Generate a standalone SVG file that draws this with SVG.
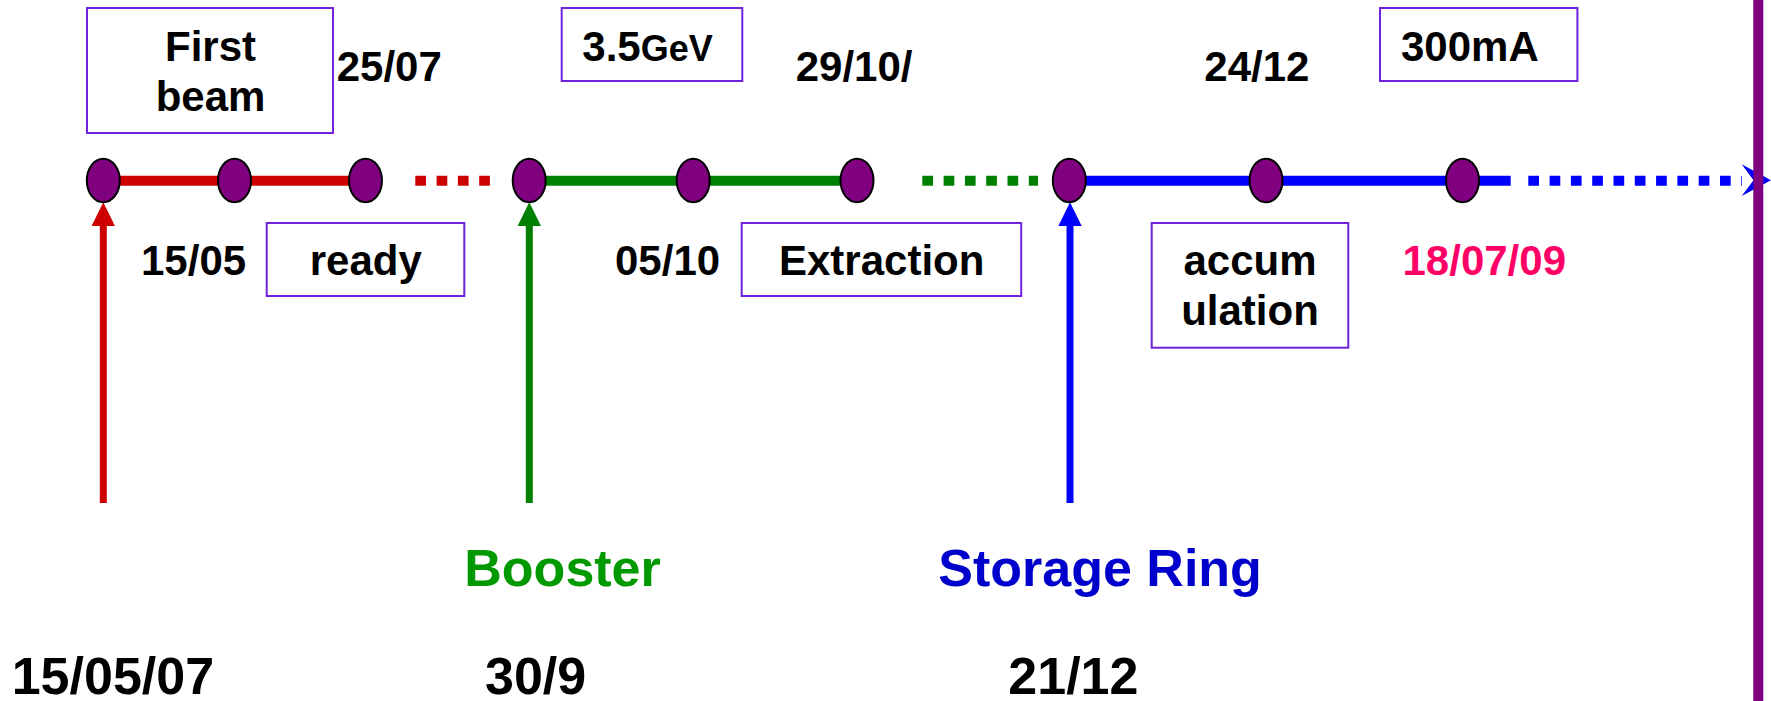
<svg xmlns="http://www.w3.org/2000/svg" width="1771" height="701" viewBox="0 0 1771 701">
  <style>
    text { font-family: "Liberation Sans", Arial, Helvetica, sans-serif; font-weight: bold; fill: #000; }
    .lbl { font-size: 42px; }
    .big { font-size: 52px; }
    .box { fill: #fff; stroke: #6f22d9; stroke-width: 2; }
    .node { fill: #800080; stroke: #000; stroke-width: 2; }
    .seg { stroke-width: 10; fill: none; }
    .dash { stroke-width: 10; fill: none; stroke-dasharray: 10.7 10.6; }
    .feed { stroke-width: 7; fill: none; }
  </style>

  <!-- timeline connectors -->
  <g id="connectors">
    <!-- linac (red) -->
    <line class="seg" x1="103" y1="180.7" x2="365.5" y2="180.7" stroke="#cc0000"/>
    <line class="dash" x1="415.3" y1="180.7" x2="490" y2="180.7" stroke="#cc0000"/>
    <line class="feed" x1="103.3" y1="503" x2="103.3" y2="224" stroke="#cc0000"/>
    <polygon points="103.3,202.3 91.6,226 115,226" fill="#cc0000"/>

    <!-- booster (green) -->
    <line class="seg" x1="529" y1="180.7" x2="857" y2="180.7" stroke="#008000"/>
    <line class="dash" x1="922.3" y1="180.7" x2="1038" y2="180.7" stroke="#008000"/>
    <line class="feed" x1="529.3" y1="503" x2="529.3" y2="224" stroke="#008000"/>
    <polygon points="529.3,202.3 517.6,226 541,226" fill="#008000"/>

    <!-- storage ring (blue) -->
    <line class="seg" x1="1069" y1="180.7" x2="1510.7" y2="180.7" stroke="#0000ff"/>
    <line class="dash" x1="1528.3" y1="180.7" x2="1742" y2="180.7" stroke="#0000ff"/>
    <polygon points="1771,180.3 1741.7,164.3 1753.5,180.3 1741.7,196" fill="#0000ff"/>
    <line class="feed" x1="1070" y1="503" x2="1070" y2="224" stroke="#0000ff"/>
    <polygon points="1070,202.3 1058.3,226 1081.7,226" fill="#0000ff"/>

    <!-- end marker -->
    <rect x="1753.3" y="0" width="10" height="701" fill="#800080"/>
  </g>

  <!-- milestones -->
  <g id="n-linac-1"><ellipse class="node" cx="103.3" cy="180.5" rx="16.5" ry="21.8"/></g>
  <g id="n-linac-2"><ellipse class="node" cx="234.5" cy="180.5" rx="16.5" ry="21.8"/></g>
  <g id="n-linac-3"><ellipse class="node" cx="365.5" cy="180.5" rx="16.5" ry="21.8"/></g>
  <g id="n-booster-1"><ellipse class="node" cx="529.2" cy="180.5" rx="16.5" ry="21.8"/></g>
  <g id="n-booster-2"><ellipse class="node" cx="693.2" cy="180.5" rx="16.5" ry="21.8"/></g>
  <g id="n-booster-3"><ellipse class="node" cx="857" cy="180.5" rx="16.5" ry="21.8"/></g>
  <g id="n-ring-1"><ellipse class="node" cx="1069.3" cy="180.5" rx="16.5" ry="21.8"/></g>
  <g id="n-ring-2"><ellipse class="node" cx="1266" cy="180.5" rx="16.5" ry="21.8"/></g>
  <g id="n-ring-3"><ellipse class="node" cx="1462.5" cy="180.5" rx="16.5" ry="21.8"/></g>

  <!-- boxed labels -->
  <g id="box-first-beam">
    <rect class="box" x="87" y="8" width="246" height="125"/>
    <text class="lbl" x="210.5" y="60.7" text-anchor="middle">First</text>
    <text class="lbl" x="210.5" y="110.7" text-anchor="middle">beam</text>
  </g>
  <g id="box-ready">
    <rect class="box" x="266.7" y="223" width="197.6" height="73"/>
    <text class="lbl" x="365.8" y="275" text-anchor="middle">ready</text>
  </g>
  <g id="box-energy">
    <rect class="box" x="561.7" y="8" width="180.6" height="73"/>
    <text class="lbl" x="582.3" y="60.7">3.5<tspan font-size="36">GeV</tspan></text>
  </g>
  <g id="box-extraction">
    <rect class="box" x="741.7" y="223" width="279.5" height="73"/>
    <text class="lbl" x="881.7" y="275" text-anchor="middle">Extraction</text>
  </g>
  <g id="box-accumulation">
    <rect class="box" x="1151.7" y="223" width="196.6" height="124.7"/>
    <text class="lbl" x="1250" y="275" text-anchor="middle">accum</text>
    <text class="lbl" x="1250" y="325" text-anchor="middle">ulation</text>
  </g>
  <g id="box-current">
    <rect class="box" x="1380" y="8" width="197.4" height="73"/>
    <text class="lbl" x="1401" y="60.7">300mA</text>
  </g>

  <!-- dates -->
  <g id="dates">
    <text class="lbl" x="336.7" y="81">25/07</text>
    <text class="lbl" x="141" y="275">15/05</text>
    <text class="lbl" x="795.7" y="81">29/10/</text>
    <text class="lbl" x="615" y="275">05/10</text>
    <text class="lbl" x="1204.3" y="81">24/12</text>
    <text class="lbl" x="1402.5" y="274.5" style="fill:#ff0066">18/07/09</text>
  </g>

  <!-- stage titles -->
  <g id="titles">
    <text class="big" x="464.3" y="586" style="fill:#009900">Booster</text>
    <text class="big" x="938.3" y="586" style="fill:#0000cc">Storage Ring</text>
    <text class="big" x="11.7" y="694">15/05/07</text>
    <text class="big" x="485" y="694">30/9</text>
    <text class="big" x="1008.3" y="694">21/12</text>
  </g>
</svg>
